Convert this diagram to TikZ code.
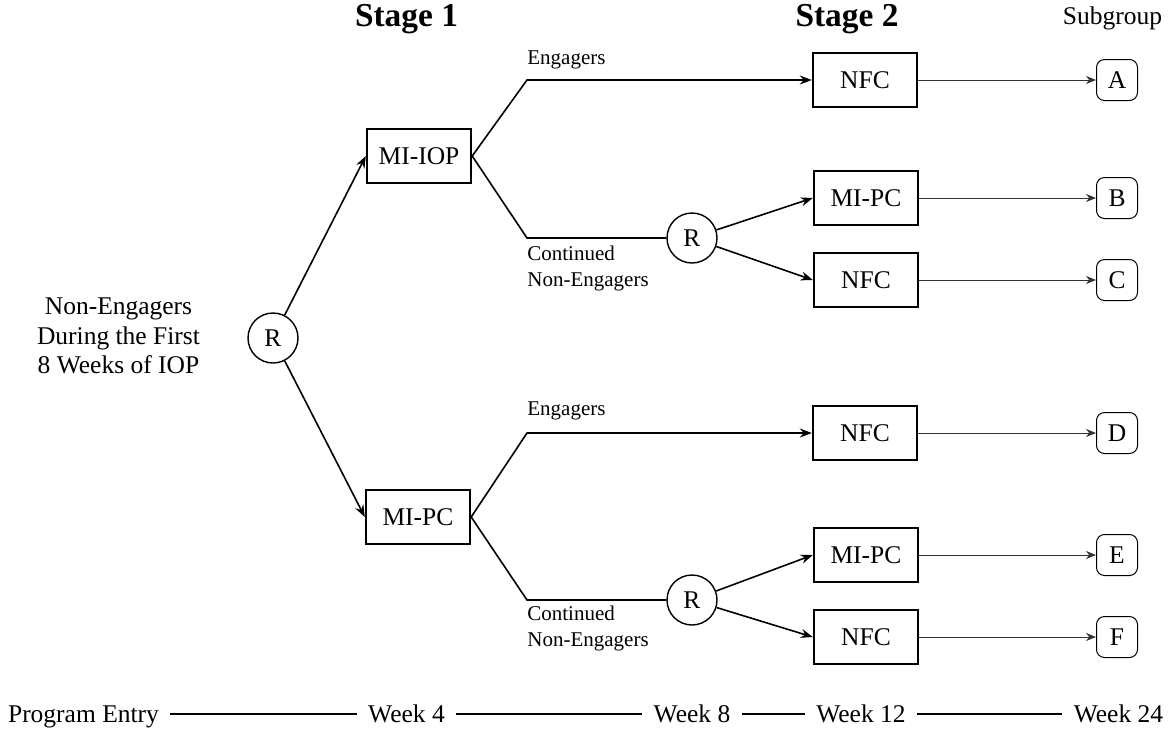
\documentclass[tikz,border=0pt]{standalone}
\usepackage{fontspec}
\setmainfont{Liberation Serif}
\usetikzlibrary{arrows.meta}
\begin{document}
\begin{tikzpicture}[x=0.5pt,y=-0.5pt,
  every node/.style={font=\fontsize{12.75pt}{14.75pt}\selectfont},
  stagebox/.style={draw,line width=1.2pt,minimum width=52pt,minimum height=27pt,inner sep=0pt},
  rnode/.style={circle,draw,line width=0.7pt,minimum size=25pt,inner sep=0pt},
  subbox/.style={draw,rounded corners=4pt,line width=0.5pt,minimum size=20.5pt,inner sep=0pt},
  conn/.style={line width=0.8pt},
  arr/.style={conn,-{Stealth[length=6pt,width=4.5pt,inset=2pt]}},
  thinarr/.style={line width=0.5pt,black!80,-{Stealth[length=5pt,width=4pt,inset=1.6pt]}},
  small/.style={font=\fontsize{10.5pt}{13pt}\selectfont,inner sep=0pt,anchor=west},
  head/.style={font=\fontsize{16.7pt}{20pt}\selectfont\bfseries},
  week/.style={inner xsep=5.5pt,inner ysep=0pt,text height=8.4pt,text depth=0pt}]
\useasboundingbox (0,0) rectangle (1175,730);

% headings
\node[head] (st1) at (406.5,19) {Stage 1};
\node[head] (st2) at (847,19) {Stage 2};
\node (sg) at (1112.5,18) {Subgroup};

% left text
\node[align=center] (ne) at (118.5,336) {Non-Engagers\\During the First\\8 Weeks of IOP};

% randomization and stage 1
\node[rnode] (r1) at (273,338) {R};
\node[stagebox] (miiop) at (419,156) {MI-IOP};
\node[stagebox] (mipc1) at (418,517) {MI-PC};
\draw[arr] (r1) -- (miiop.west);
\draw[arr] (r1) -- (mipc1.west);

% upper branch
\coordinate (u1) at (527,80);
\coordinate (u2) at (527,238);
\node[rnode] (r2) at (692,238) {R};
\node[stagebox] (nfcA) at (865,80) {NFC};
\node[stagebox] (mipcB) at (866,198) {MI-PC};
\node[stagebox] (nfcC) at (866,280) {NFC};
\draw[arr] (miiop.east) -- (u1) -- (nfcA.west);
\draw[conn] (miiop.east) -- (u2) -- (r2.west);
\draw[arr] (r2) -- (mipcB.west);
\draw[arr] (r2) -- (nfcC.west);
\node[small] (lEa) at (527,60) {Engagers};
\node[small,align=left,anchor=north west] (lCa) at (527,246) {Continued\\Non-Engagers};

% lower branch
\coordinate (d1) at (527,433);
\coordinate (d2) at (527,600);
\node[rnode] (r3) at (692,600) {R};
\node[stagebox] (nfcD) at (865,433) {NFC};
\node[stagebox] (mipcE) at (866,555) {MI-PC};
\node[stagebox] (nfcF) at (866,637) {NFC};
\draw[arr] (mipc1.east) -- (d1) -- (nfcD.west);
\draw[conn] (mipc1.east) -- (d2) -- (r3.west);
\draw[arr] (r3) -- (mipcE.west);
\draw[arr] (r3) -- (nfcF.west);
\node[small] (lEb) at (527,411) {Engagers};
\node[small,align=left,anchor=north west] (lCb) at (527,606) {Continued\\Non-Engagers};

% subgroups
\node[subbox] (A) at (1117,80) {A};
\node[subbox] (B) at (1117,198) {B};
\node[subbox] (C) at (1117,280) {C};
\node[subbox] (D) at (1117,433) {D};
\node[subbox] (E) at (1117,555) {E};
\node[subbox] (F) at (1117,637) {F};
\draw[thinarr] (nfcA.east) -- (A.west);
\draw[thinarr] (mipcB.east) -- (B.west);
\draw[thinarr] (nfcC.east) -- (C.west);
\draw[thinarr] (nfcD.east) -- (D.west);
\draw[thinarr] (mipcE.east) -- (E.west);
\draw[thinarr] (nfcF.east) -- (F.west);

% timeline
\node[week] (w0) at (83.5,714) {Program Entry};
\node[week] (w4) at (406.5,714) {Week 4};
\node[week] (w8) at (692,714) {Week 8};
\node[week] (w12) at (861,714) {Week 12};
\node[week] (w24) at (1118.5,714) {Week 24};
\draw[conn] (w0.east) -- (w4.west);
\draw[conn] (w4.east) -- (w8.west);
\draw[conn] (w8.east) -- (w12.west);
\draw[conn] (w12.east) -- (w24.west);
\end{tikzpicture}
\end{document}
